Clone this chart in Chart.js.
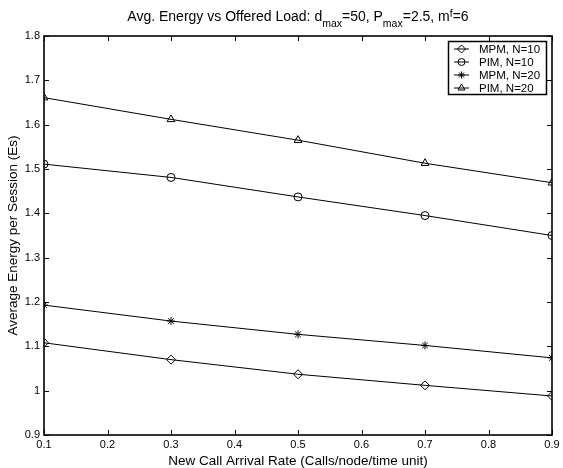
<!DOCTYPE html>
<html>
<head>
<meta charset="utf-8">
<script src="https://cdn.jsdelivr.net/npm/chart.js@4"></script>
<style>
  html, body { margin: 0; padding: 0; background: #fff; }
  #wrap { width: 563px; height: 468px; }
</style>
</head>
<body>
<div id="wrap"><canvas id="chart"></canvas></div>
<script>
// data
const arrivalRate = [0.1, 0.3, 0.5, 0.7, 0.9]
const mpmN10 = [1.108, 1.070, 1.037, 1.012, 0.988]
const pimN10 = [1.511, 1.481, 1.437, 1.395, 1.350]
const mpmN20 = [1.193, 1.157, 1.127, 1.102, 1.074]
const pimN20 = [1.661, 1.612, 1.565, 1.513, 1.469]
const seriesNames = ["MPM, N=10", "PIM, N=10", "MPM, N=20", "PIM, N=20"]
const xTicks = [0.1, 0.2, 0.3, 0.4, 0.5, 0.6, 0.7, 0.8, 0.9]
const yTicks = [0.9, 1.0, 1.1, 1.2, 1.3, 1.4, 1.5, 1.6, 1.7, 1.8]

const FONT = "'Liberation Sans', Arial, Helvetica, sans-serif"
const markers = ["rectRot", "circle", "star", "triangle"]
const markerSize = [4.5, 4, 4, 4.5]

const toPoints = (ys) => arrivalRate.map((x, i) => ({ x: x, y: ys[i] }))

const datasets = [mpmN10, pimN10, mpmN20, pimN20].map((ys, i) => ({
    label: seriesNames[i],
    data: toPoints(ys),
    borderColor: "#000",
    borderWidth: 1,
    pointStyle: markers[i],
    pointRadius: markerSize[i],
    pointBorderColor: "#000",
    pointBackgroundColor: "rgba(0,0,0,0)",
    pointBorderWidth: 1,
    tension: 0
}))

// box, inward ticks, title with sub/superscripts, legend
const matlabLook = {
    id: "matlabLook",
    afterDraw(chart) {
        const ctx = chart.ctx
        const a = chart.chartArea
        const xs = chart.scales.x
        const ys = chart.scales.y
        ctx.save()
        ctx.strokeStyle = "#000"

        ctx.lineWidth = 1
        const tl = 5
        ctx.beginPath()
        xTicks.forEach(v => {
            const px = Math.round(xs.getPixelForValue(v)) + 0.5
            ctx.moveTo(px, a.bottom); ctx.lineTo(px, a.bottom - tl)
            ctx.moveTo(px, a.top); ctx.lineTo(px, a.top + tl)
        })
        yTicks.forEach(v => {
            const py = Math.round(ys.getPixelForValue(v)) + 0.5
            ctx.moveTo(a.left, py); ctx.lineTo(a.left + tl, py)
            ctx.moveTo(a.right, py); ctx.lineTo(a.right - tl, py)
        })
        ctx.stroke()

        ctx.lineWidth = 1.6
        ctx.strokeRect(a.left, a.top, a.right - a.left, a.bottom - a.top)

        // title
        const parts = [
            ["Avg. Energy vs Offered Load: d", 0], ["max", 1], ["=50, P", 0], ["max", 1],
            ["=2.5, m", 0], ["f", -1], ["=6", 0]
        ]
        const big = "14px " + FONT, small = "10.5px " + FONT
        let total = 0
        parts.forEach(p => { ctx.font = p[1] ? small : big; total += ctx.measureText(p[0]).width })
        let tx = (a.left + a.right) / 2 - total / 2
        const ty = 21
        ctx.fillStyle = "#000"
        ctx.textBaseline = "alphabetic"
        ctx.textAlign = "left"
        parts.forEach(p => {
            ctx.font = p[1] ? small : big
            const dy = p[1] === 1 ? 6 : (p[1] === -1 ? -4 : 0)
            ctx.fillText(p[0], tx, ty + dy)
            tx += ctx.measureText(p[0]).width
        })

        // legend
        const lx = 448, ly = 41, lw = 98, lh = 53
        ctx.fillStyle = "#fff"
        ctx.fillRect(lx, ly, lw, lh)
        ctx.lineWidth = 1.5
        ctx.strokeRect(lx + 0.5, ly + 0.5, lw, lh)
        ctx.lineWidth = 1
        ctx.font = "11.5px " + FONT
        ctx.textBaseline = "middle"
        seriesNames.forEach((name, i) => {
            const y = ly + 8 + i * 13
            ctx.strokeStyle = "#000"
            ctx.beginPath()
            ctx.moveTo(lx + 6, y); ctx.lineTo(lx + 21, y)
            ctx.stroke()
            ctx.fillStyle = "rgba(0,0,0,0)"
            Chart.helpers.drawPoint(ctx, {
                pointStyle: markers[i], radius: markerSize[i] - 0.5, rotation: 0, borderWidth: 1
            }, lx + 13.5, y)
            ctx.fillStyle = "#000"
            ctx.fillText(name, lx + 31, y + 0.5)
        })
        ctx.restore()
    }
}

new Chart(document.getElementById("chart"), {
    type: "line",
    data: { datasets: datasets },
    plugins: [matlabLook],
    options: {
        responsive: true,
        maintainAspectRatio: false,
        animation: false,
        layout: { padding: { left: 0, right: 11, top: 36, bottom: 0 } },
        plugins: { legend: { display: false }, title: { display: false }, tooltip: { enabled: false } },
        scales: {
            x: {
                type: "linear",
                min: 0.1,
                max: 0.9,
                afterBuildTicks: s => { s.ticks = xTicks.map(v => ({ value: v })) },
                afterFit: s => { s.height = 33 },
                grid: { display: false, drawTicks: false },
                border: { display: false },
                ticks: {
                    color: "#000",
                    padding: 3,
                    maxRotation: 0,
                    font: { family: FONT, size: 11 },
                    callback: v => String(+v.toFixed(1))
                },
                title: {
                    display: true,
                    text: "New Call Arrival Rate (Calls/node/time unit)",
                    color: "#000",
                    font: { family: FONT, size: 13.5, lineHeight: 1 },
                    padding: { top: 0, bottom: 0 }
                }
            },
            y: {
                min: 0.9,
                max: 1.8,
                afterBuildTicks: s => { s.ticks = yTicks.map(v => ({ value: v })) },
                afterFit: s => { s.width = 44 },
                grid: { display: false, drawTicks: false },
                border: { display: false },
                ticks: {
                    color: "#000",
                    padding: 4,
                    font: { family: FONT, size: 11 },
                    callback: v => String(+v.toFixed(1))
                },
                title: {
                    display: true,
                    text: "Average Energy per Session (Es)",
                    color: "#000",
                    font: { family: FONT, size: 13.5, lineHeight: 1 },
                    padding: { top: 7, bottom: 0 }
                }
            }
        }
    }
})
</script>
</body>
</html>
